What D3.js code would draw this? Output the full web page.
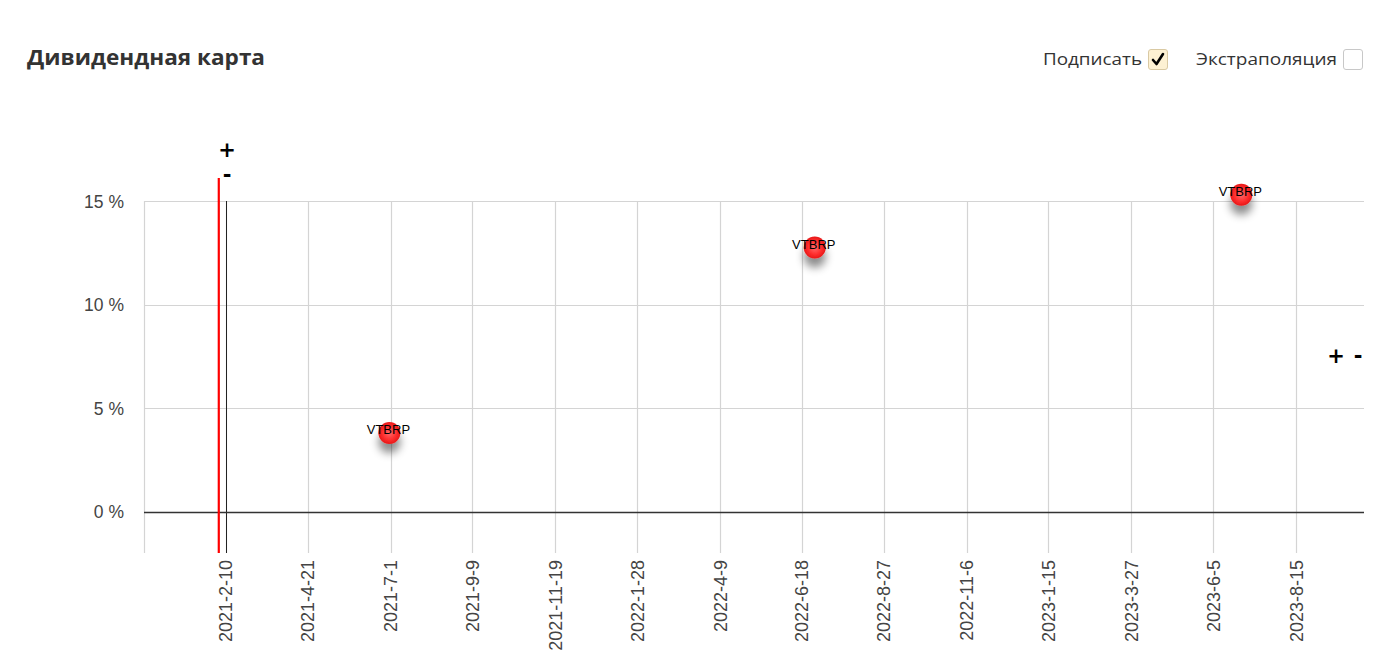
<!DOCTYPE html>
<html><head><meta charset="utf-8">
<script src="https://cdn.jsdelivr.net/npm/d3@7"></script>
<style>
html,body{margin:0;padding:0;background:#fff;}
svg{display:block;}
</style></head>
<body>
<svg id="chart" width="1374" height="665"></svg>
<script>
// ---- data ----
const title = "Дивидендная карта";
const controlLabels = ["Подписать", "Экстраполяция"];
const tickLabels = ["2021-2-10","2021-4-21","2021-7-1","2021-9-9","2021-11-19","2022-1-28","2022-4-9","2022-6-18","2022-8-27","2022-11-6","2023-1-15","2023-3-27","2023-6-5","2023-8-15"];
const yTicks = [0, 5, 10, 15];
const pointTickers = ["VTBRP", "VTBRP", "VTBRP"];
const pointDates = ["2021-6-30", "2022-6-29", "2023-6-29"];
const pointValues = [3.8, 12.75, 15.3];
const xDomain = ["2020-12-2", "2023-10-12"];
const yDomain = [-2, 15];
const todayDate = "2021-2-4";
const baseDate = "2021-2-10";

const parse = s => { const [yy,m,d] = s.split("-").map(Number); return new Date(Date.UTC(yy, m-1, d)); };

const svg = d3.select("#chart");
const pLeft = 144, pRight = 1364, pTop = 201, pBottom = 553;

const x = d3.scaleUtc().domain(xDomain.map(parse)).range([pLeft, pRight]);
const y = d3.scaleLinear().domain(yDomain).range([pBottom, pTop]);

const defs = svg.append("defs");
const rg = defs.append("radialGradient").attr("id","ball").attr("cx","50%").attr("cy","50%").attr("r","50%");
rg.append("stop").attr("offset","0%").attr("stop-color","#ff6a6a");
rg.append("stop").attr("offset","60%").attr("stop-color","#ff3030");
rg.append("stop").attr("offset","100%").attr("stop-color","#e81818");
const f = defs.append("filter").attr("id","shadow").attr("x","-100%").attr("y","-100%").attr("width","300%").attr("height","300%");
f.append("feDropShadow").attr("dx",0).attr("dy",9).attr("stdDeviation",4.5).attr("flood-color","#000").attr("flood-opacity",0.45);

// Title
svg.append("text").attr("x",27).attr("y",65)
  .attr("font-family","'Open Sans', sans-serif").attr("font-weight",700).attr("font-size",21)
  .attr("fill","#333").attr("textLength",238).attr("lengthAdjust","spacingAndGlyphs").text(title);

// Controls
const ctrl = [
  {label: controlLabels[0], tx: 1043, tw: 99, bx: 1148, checked: true},
  {label: controlLabels[1], tx: 1196, tw: 141, bx: 1343, checked: false}
];
ctrl.forEach(c => {
  svg.append("text").attr("x", c.tx).attr("y", 65)
    .attr("font-family","'Open Sans', sans-serif").attr("font-size",17).attr("fill","#333")
    .attr("textLength", c.tw).attr("lengthAdjust","spacingAndGlyphs").text(c.label);
  svg.append("rect").attr("x", c.bx+0.5).attr("y", 49.5).attr("width", 19).attr("height", 20).attr("rx", 2.5)
    .attr("fill", c.checked ? "#fdf1d3" : "#fff").attr("stroke", c.checked ? "#d9c9a3" : "#c8c8c8");
  if (c.checked) {
    svg.append("path").attr("d", `M${c.bx+5},${60} L${c.bx+8.5},${64} L${c.bx+15},${54}`)
      .attr("fill","none").attr("stroke","#000").attr("stroke-width",2.6).attr("stroke-linecap","round").attr("stroke-linejoin","round");
  }
});

// Grid
const g = svg.append("g");
const tickDates = tickLabels.map(parse);
g.selectAll("line.vg").data([x.domain()[0], ...tickDates]).join("line")
  .attr("x1", d => Math.round(x(d))+0.5).attr("x2", d => Math.round(x(d))+0.5)
  .attr("y1", pTop).attr("y2", pBottom).attr("stroke","#d4d4d4").attr("stroke-width",1.2);
g.selectAll("line.hg").data(yTicks.filter(v => v !== 0)).join("line")
  .attr("x1", pLeft).attr("x2", pRight)
  .attr("y1", d => Math.round(y(d))+0.5).attr("y2", d => Math.round(y(d))+0.5)
  .attr("stroke","#d4d4d4").attr("stroke-width",1.2);

// black base vertical and zero line
g.append("line").attr("x1", Math.round(x(parse(baseDate)))+0.5).attr("x2", Math.round(x(parse(baseDate)))+0.5)
  .attr("y1", pTop).attr("y2", pBottom).attr("stroke","#222").attr("stroke-width",1);
g.append("line").attr("x1", pLeft).attr("x2", pRight)
  .attr("y1", Math.round(y(0))+0.5).attr("y2", Math.round(y(0))+0.5).attr("stroke","#333").attr("stroke-width",1.3);

// Y axis labels
svg.append("g").selectAll("text").data(yTicks).join("text")
  .attr("x", 124).attr("y", d => y(d) + 6.5).attr("text-anchor","end")
  .attr("font-family","'Liberation Sans', Arial, sans-serif").attr("font-size",17.5).attr("fill","#444")
  .text(d => d + " %");

// X axis labels (rotated)
svg.append("g").selectAll("text").data(tickDates).join("text")
  .attr("transform", (d) => `translate(${x(d)+6.5},560) rotate(-90)`)
  .attr("text-anchor","end")
  .attr("font-family","'Liberation Sans', Arial, sans-serif").attr("font-size",18).attr("fill","#444")
  .text((d,i) => tickLabels[i]);

// today red line
svg.append("line").attr("x1", x(parse(todayDate))).attr("x2", x(parse(todayDate)))
  .attr("y1", 178).attr("y2", pBottom).attr("stroke","#f00").attr("stroke-width",2.2);

// +/- controls
const pm = [
  {t:"+", x: 227, y: 156.5, s: 21}, {t:"-", x: 227, y: 182, s: 21},
  {t:"+", x: 1336, y: 363, s: 21}, {t:"-", x: 1358, y: 363, s: 21}
];
svg.append("g").selectAll("text").data(pm).join("text")
  .attr("x", d => d.x).attr("y", d => d.y).attr("text-anchor","middle")
  .attr("font-family","'DejaVu Sans', sans-serif").attr("font-weight",700).attr("font-size", d => d.s)
  .attr("fill","#000").text(d => d.t);

// Points
const pts = pointDates.map((d,i) => ({date: parse(d), v: pointValues[i], name: pointTickers[i]}));
const pg = svg.append("g");
pg.selectAll("circle").data(pts).join("circle")
  .attr("cx", d => x(d.date)).attr("cy", d => y(d.v)).attr("r", 11)
  .attr("fill","url(#ball)").attr("filter","url(#shadow)");
pg.selectAll("text").data(pts).join("text")
  .attr("x", d => x(d.date) - 1).attr("y", d => y(d.v) + 1.5).attr("text-anchor","middle")
  .attr("font-family","'Liberation Sans', Arial, sans-serif").attr("font-size",13).attr("fill","#000")
  .text(d => d.name);
</script>
</body></html>
